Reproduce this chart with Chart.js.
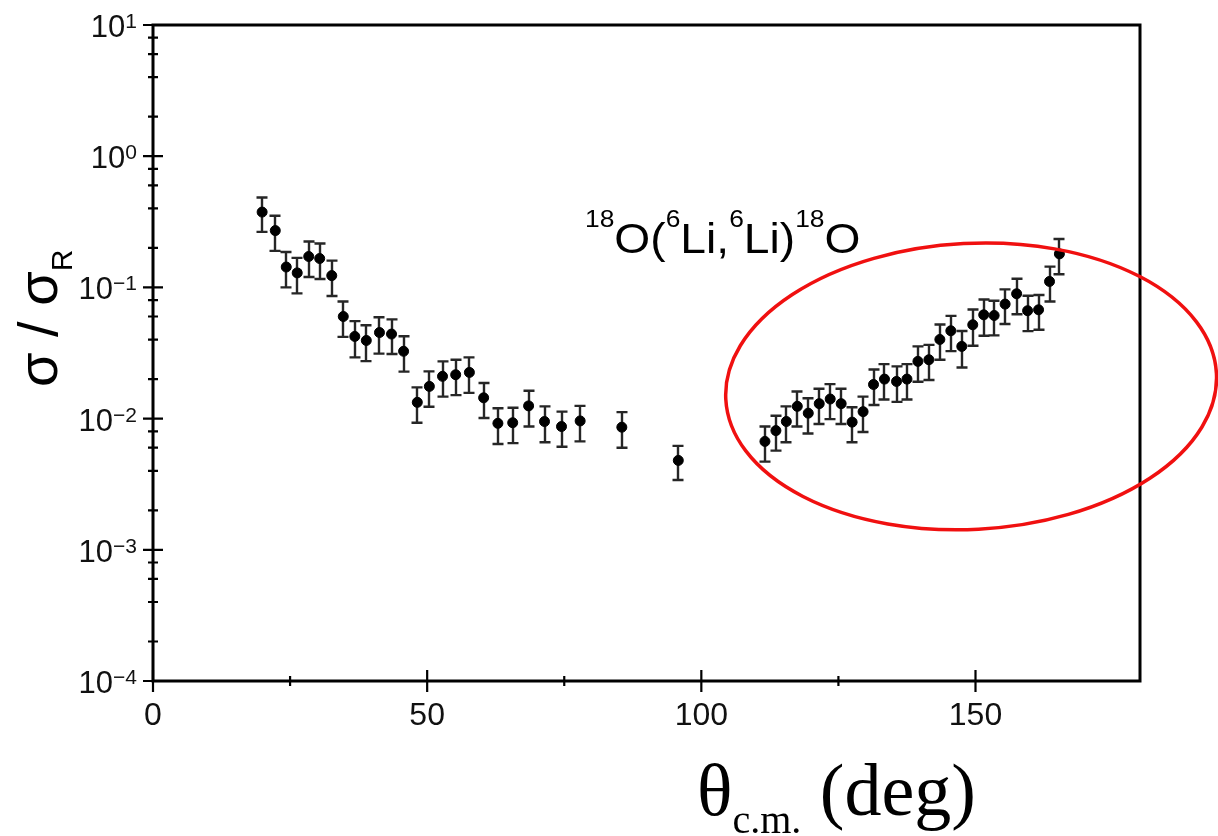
<!DOCTYPE html>
<html>
<head>
<meta charset="utf-8">
<script src="https://cdn.jsdelivr.net/npm/chart.js@4.4.1/dist/chart.umd.min.js"></script>
<style>
  html, body { margin: 0; padding: 0; background: #fff; }
  #wrap { width: 1218px; height: 836px; }
</style>
</head>
<body>
<div id="wrap"><canvas id="chart"></canvas></div>
<script>
// elastic 18O(6Li,6Li)18O, ratio to Rutherford vs. c.m. angle
const theta = [
  19.9, 22.3, 24.3, 26.3, 28.4, 30.4, 32.6, 34.7, 36.8, 38.9,
  41.3, 43.5, 45.7, 48.2, 50.4, 52.8, 55.2, 57.7, 60.3, 62.9,
  65.6, 68.5, 71.4, 74.5, 77.9, 85.5, 95.8,
  111.6, 113.6, 115.5, 117.5, 119.5, 121.5, 123.5, 125.5, 127.5, 129.5,
  131.4, 133.4, 135.6, 137.5, 139.5, 141.5, 143.5, 145.5, 147.5, 149.5,
  151.5, 153.4, 155.4, 157.5, 159.5, 161.5, 163.5, 165.3
];
const sigmaRatio = [
  0.375, 0.271, 0.143, 0.129, 0.172, 0.166, 0.123, 0.060, 0.0423, 0.0394,
  0.0453, 0.0441, 0.0326, 0.0133, 0.0176, 0.0210, 0.0216, 0.0225, 0.0144, 0.0092,
  0.0093, 0.0125, 0.0095, 0.0087, 0.0096, 0.0086, 0.0048,
  0.0067, 0.0081, 0.0095, 0.0124, 0.0110, 0.0130, 0.0141, 0.0130, 0.0094, 0.0113,
  0.0182, 0.0200, 0.0192, 0.0200, 0.0273, 0.0281, 0.0401, 0.0467, 0.0355, 0.0519,
  0.0618, 0.0611, 0.0746, 0.0894, 0.0664, 0.0675, 0.111, 0.180
];
const sigmaErr = [
  0.11, 0.081, 0.043, 0.039, 0.052, 0.050, 0.037, 0.018, 0.013, 0.012,
  0.014, 0.013, 0.0098, 0.0040, 0.0053, 0.0063, 0.0065, 0.0068, 0.0043, 0.0028,
  0.0028, 0.0038, 0.0029, 0.0026, 0.0029, 0.0026, 0.0014,
  0.0020, 0.0024, 0.0029, 0.0037, 0.0033, 0.0039, 0.0042, 0.0039, 0.0028, 0.0034,
  0.0055, 0.0060, 0.0058, 0.0060, 0.0082, 0.0084, 0.012, 0.014, 0.011, 0.016,
  0.019, 0.018, 0.022, 0.027, 0.020, 0.020, 0.033, 0.054
];

const xMajorTicks = [0, 50, 100, 150];
const xMinorTicks = [25, 75, 125];
const yDecades = [-4, -3, -2, -1, 0, 1];
const yMinorSteps = [2, 4, 6, 8];

// highlighted backward-angle region
const ringCentre = { theta: 149.2, value: 0.0176 };
const ringHalfWidth = 44.8;   // degrees
const ringHalfHeight = 1.09;  // decades
const ringTilt = -3;          // degrees

const SANS = '"Liberation Sans", Arial, sans-serif';
const SERIF = '"Liberation Serif", "Times New Roman", serif';

function drawRuns(ctx, x, y, runs, sx) {
  ctx.save();
  ctx.translate(x, y);
  ctx.scale(sx || 1, 1);
  let cx = 0;
  for (const r of runs) {
    ctx.font = r.font;
    ctx.fillText(r.text, cx, r.dy || 0);
    cx += ctx.measureText(r.text).width + (r.gap || 0);
  }
  ctx.restore();
}

const decorations = {
  id: 'decorations',
  beforeDatasetsDraw(chart) {
    const { ctx, scales: { x, y } } = chart;
    ctx.save();
    ctx.strokeStyle = '#262626';
    ctx.lineWidth = 2.4;
    ctx.beginPath();
    for (let i = 0; i < theta.length; i++) {
      const px = Math.round(x.getPixelForValue(theta[i]));
      const top = y.getPixelForValue(sigmaRatio[i] + sigmaErr[i]);
      const bot = y.getPixelForValue(sigmaRatio[i] - sigmaErr[i]);
      ctx.moveTo(px, top); ctx.lineTo(px, bot);
      ctx.moveTo(px - 5.5, top); ctx.lineTo(px + 5.5, top);
      ctx.moveTo(px - 5.5, bot); ctx.lineTo(px + 5.5, bot);
    }
    ctx.stroke();
    ctx.restore();
  },
  afterDraw(chart) {
    const { ctx, chartArea: a, scales: { x, y } } = chart;
    ctx.save();

    // frame
    ctx.strokeStyle = '#000';
    ctx.lineWidth = 3;
    ctx.strokeRect(a.left, a.top, a.right - a.left, a.bottom - a.top);

    // tick marks
    ctx.lineWidth = 2.2;
    ctx.beginPath();
    for (const d of yDecades) {
      const py = y.getPixelForValue(Math.pow(10, d));
      ctx.moveTo(a.left - 10, py); ctx.lineTo(a.left + 10, py);
      if (d < 1) {
        for (const m of yMinorSteps) {
          const pm = y.getPixelForValue(m * Math.pow(10, d));
          ctx.moveTo(a.left - 5, pm); ctx.lineTo(a.left + 5, pm);
        }
      }
    }
    for (const v of xMajorTicks) {
      const px = x.getPixelForValue(v);
      ctx.moveTo(px, a.bottom - 11); ctx.lineTo(px, a.bottom + 11);
    }
    for (const v of xMinorTicks) {
      const px = x.getPixelForValue(v);
      ctx.moveTo(px, a.bottom - 5); ctx.lineTo(px, a.bottom + 5);
    }
    ctx.stroke();

    ctx.fillStyle = '#111';
    ctx.textBaseline = 'alphabetic';

    // y tick labels: 10^n
    for (const d of yDecades) {
      const py = y.getPixelForValue(Math.pow(10, d));
      const sup = d < 0 ? '\u2212' + (-d) : String(d);
      ctx.font = '21px ' + SANS;
      const supW = ctx.measureText(sup).width;
      ctx.font = '31px ' + SANS;
      const mainW = ctx.measureText('10').width;
      const x0 = a.left - 16 - supW - mainW;
      ctx.fillText('10', x0, py + 12);
      ctx.font = '21px ' + SANS;
      ctx.fillText(sup, x0 + mainW, py + 3);
    }

    // x tick labels
    ctx.font = '32px ' + SANS;
    ctx.textAlign = 'center';
    for (const v of xMajorTicks) {
      ctx.fillText(String(v), x.getPixelForValue(v), a.bottom + 44);
    }
    ctx.textAlign = 'left';

    // axis titles
    ctx.fillStyle = '#000';
    drawRuns(ctx, 697, 815, [
      { text: '\u03b8', font: '74px ' + SERIF },
      { text: 'c.m.', font: '40px ' + SERIF, dy: 18 },
      { text: ' (deg)', font: '74px ' + SERIF }
    ]);

    ctx.save();
    ctx.translate(57, 387);
    ctx.rotate(-Math.PI / 2);
    drawRuns(ctx, 0, 0, [
      { text: '\u03c3 / \u03c3', font: '56px ' + SANS },
      { text: 'R', font: '30px ' + SANS, dy: 15 }
    ]);
    ctx.restore();

    // reaction label
    const sup = '24px ' + SANS, big = '42px ' + SANS;
    drawRuns(ctx, 585, 253, [
      { text: '18', font: sup, dy: -26 },
      { text: 'O(', font: big },
      { text: '6', font: sup, dy: -26 },
      { text: 'Li,', font: big },
      { text: '6', font: sup, dy: -26 },
      { text: 'Li)', font: big },
      { text: '18', font: sup, dy: -26 },
      { text: 'O', font: big }
    ], 1.1);

    // highlight ring
    const cx = x.getPixelForValue(ringCentre.theta);
    const cy = y.getPixelForValue(ringCentre.value);
    const rx = x.getPixelForValue(ringCentre.theta + ringHalfWidth) - cx;
    const ry = cy - y.getPixelForValue(ringCentre.value * Math.pow(10, ringHalfHeight));
    ctx.strokeStyle = '#f01010';
    ctx.lineWidth = 3.5;
    ctx.beginPath();
    ctx.ellipse(cx, cy, rx, ry, ringTilt * Math.PI / 180, 0, Math.PI * 2);
    ctx.stroke();

    ctx.restore();
  }
};

new Chart(document.getElementById('chart'), {
  type: 'scatter',
  data: {
    datasets: [{
      data: theta.map((t, i) => ({ x: t, y: sigmaRatio[i] })),
      backgroundColor: '#000',
      borderColor: '#000',
      pointRadius: 5,
      pointHoverRadius: 5,
      showLine: false
    }]
  },
  options: {
    responsive: true,
    maintainAspectRatio: false,
    animation: false,
    events: [],
    layout: { padding: { left: 153, right: 78, top: 25, bottom: 155 } },
    plugins: { legend: { display: false }, tooltip: { enabled: false } },
    scales: {
      x: { type: 'linear', min: 0, max: 180, display: false },
      y: { type: 'logarithmic', min: 1e-4, max: 10, display: false }
    }
  },
  plugins: [decorations]
});
</script>
</body>
</html>
